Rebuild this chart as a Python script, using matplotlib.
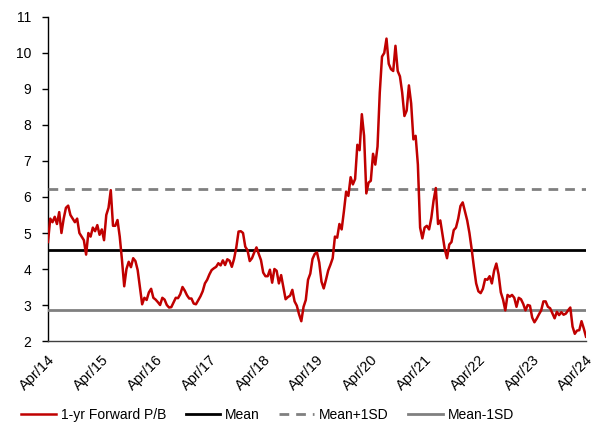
import matplotlib
matplotlib.use("Agg")
import matplotlib.pyplot as plt
import matplotlib.transforms as mtransforms
import pandas as pd

plt.rcParams['font.family'] = ['Liberation Sans', 'DejaVu Sans']

start_date = "2014-04-01"
end_date = "2024-04-01"

pb_values = [
    4.75, 5.4, 5.3, 5.45, 5.25, 5.58, 5.0, 5.4, 5.7, 5.76,
    5.5, 5.4, 5.3, 5.4, 5.0, 4.9, 4.8, 4.4, 5.0, 4.9,
    5.15, 5.05, 5.22, 4.95, 5.1, 4.8, 5.5, 5.7, 6.19, 5.2,
    5.2, 5.36, 4.9, 4.25, 3.52, 4.0, 4.2, 4.05, 4.3, 4.22,
    3.97, 3.5, 3.02, 3.2, 3.14, 3.35, 3.45, 3.2, 3.15, 3.08,
    3.0, 3.2, 3.15, 3.0, 2.93, 2.94, 3.07, 3.2, 3.19, 3.3,
    3.5, 3.4, 3.27, 3.18, 3.18, 3.04, 3.02, 3.13, 3.24, 3.38,
    3.6, 3.7, 3.85, 3.97, 4.02, 4.06, 4.16, 4.1, 4.24, 4.11,
    4.27, 4.23, 4.06, 4.28, 4.6, 5.04, 5.05, 5.0, 4.62, 4.52,
    4.22, 4.3, 4.46, 4.6, 4.42, 4.25, 3.9, 3.8, 3.8, 3.98,
    3.62, 4.0, 3.95, 3.6, 3.83, 3.5, 3.16, 3.22, 3.26, 3.42,
    3.1, 2.98, 2.74, 2.55, 2.95, 3.14, 3.7, 3.87, 4.28, 4.42,
    4.46, 4.18, 3.65, 3.46, 3.7, 3.96, 4.12, 4.3, 4.9, 4.87,
    5.25, 5.1, 5.6, 6.15, 6.03, 6.55, 6.35, 6.5, 7.45, 7.3,
    8.3, 7.7, 6.1, 6.4, 6.45, 7.2, 6.9, 7.4, 8.9, 9.9,
    10.0, 10.4, 9.7, 9.55, 9.5, 10.2, 9.5, 9.35, 8.9, 8.25,
    8.4, 9.1, 8.6, 7.6, 7.7, 6.9, 5.15, 4.85, 5.15, 5.2,
    5.1, 5.42, 5.9, 6.25, 5.25, 5.35, 4.95, 4.55, 4.3, 4.68,
    4.75, 5.08, 5.15, 5.4, 5.75, 5.85, 5.6, 5.35, 5.0, 4.55,
    4.05, 3.6, 3.38, 3.33, 3.45, 3.72, 3.7, 3.8, 3.6, 3.95,
    4.15, 3.85, 3.35, 3.15, 2.85, 3.28, 3.23, 3.28, 3.2, 2.95,
    3.2, 3.16, 3.03, 2.85, 3.0, 2.98, 2.65, 2.52, 2.62, 2.74,
    2.85, 3.1, 3.1, 2.95, 2.91, 2.77, 2.63, 2.81, 2.72, 2.8,
    2.73, 2.76, 2.85, 2.93, 2.4, 2.2, 2.29, 2.3, 2.55, 2.35,
    2.12,
]

mean_value = 4.53
mean_plus_sd = 6.22
mean_minus_sd = 2.86

series_labels = ["1-yr Forward P/B", "Mean", "Mean+1SD", "Mean-1SD"]
tick_years = list(range(2014, 2025))
y_ticks = list(range(2, 12))

dates = pd.date_range(start_date, end_date, periods=len(pb_values))

fig = plt.figure(figsize=(6.11, 4.44), dpi=100)
ax = fig.add_axes([48/611, 1-341/444, (586-48)/611, (341-17)/444])

ax.plot(dates, pb_values, color="#C00000", lw=1.8, label=series_labels[0], zorder=5)
ax.plot([dates[0], dates[-1]], [mean_value]*2, color="black", lw=2.0, label=series_labels[1], zorder=3)
ax.plot([dates[0], dates[-1]], [mean_plus_sd]*2, color="#808080", lw=2.0, ls=(0, (3.5, 2.5)), label=series_labels[2], zorder=3)
ax.plot([dates[0], dates[-1]], [mean_minus_sd]*2, color="#808080", lw=2.0, label=series_labels[3], zorder=3)

ax.set_ylim(2, 11)
ax.set_yticks(y_ticks)
ax.set_xlim(dates[0], dates[-1])
ticks = [pd.Timestamp(f"{y}-04-01") for y in tick_years]
ax.set_xticks(ticks)
ax.set_xticklabels([f"Apr/{y % 100:02d}" for y in tick_years], rotation=45, ha="right", va="top",
                   rotation_mode="anchor")

offset = mtransforms.ScaledTranslation(4/100, -2/100, fig.dpi_scale_trans)
for lbl in ax.get_xticklabels():
    lbl.set_transform(lbl.get_transform() + offset)

for s in ["top", "right"]:
    ax.spines[s].set_visible(False)
ax.spines["left"].set_color("black")
ax.spines["bottom"].set_color("#404040")
ax.spines["left"].set_linewidth(1.0)
ax.spines["bottom"].set_linewidth(1.0)
ax.tick_params(axis="y", labelsize=10, length=4, width=1, direction="out", pad=8)
ax.tick_params(axis="x", labelsize=10.5, length=0, pad=8)

handles, labels = ax.get_legend_handles_labels()
fig.legend(handles, labels, loc="center", bbox_to_anchor=(0.438, 1-415/444), ncol=4,
           frameon=False, fontsize=10, handlelength=2.5, handletextpad=0.35, columnspacing=1.4)

fig.savefig("out.png", dpi=100)
